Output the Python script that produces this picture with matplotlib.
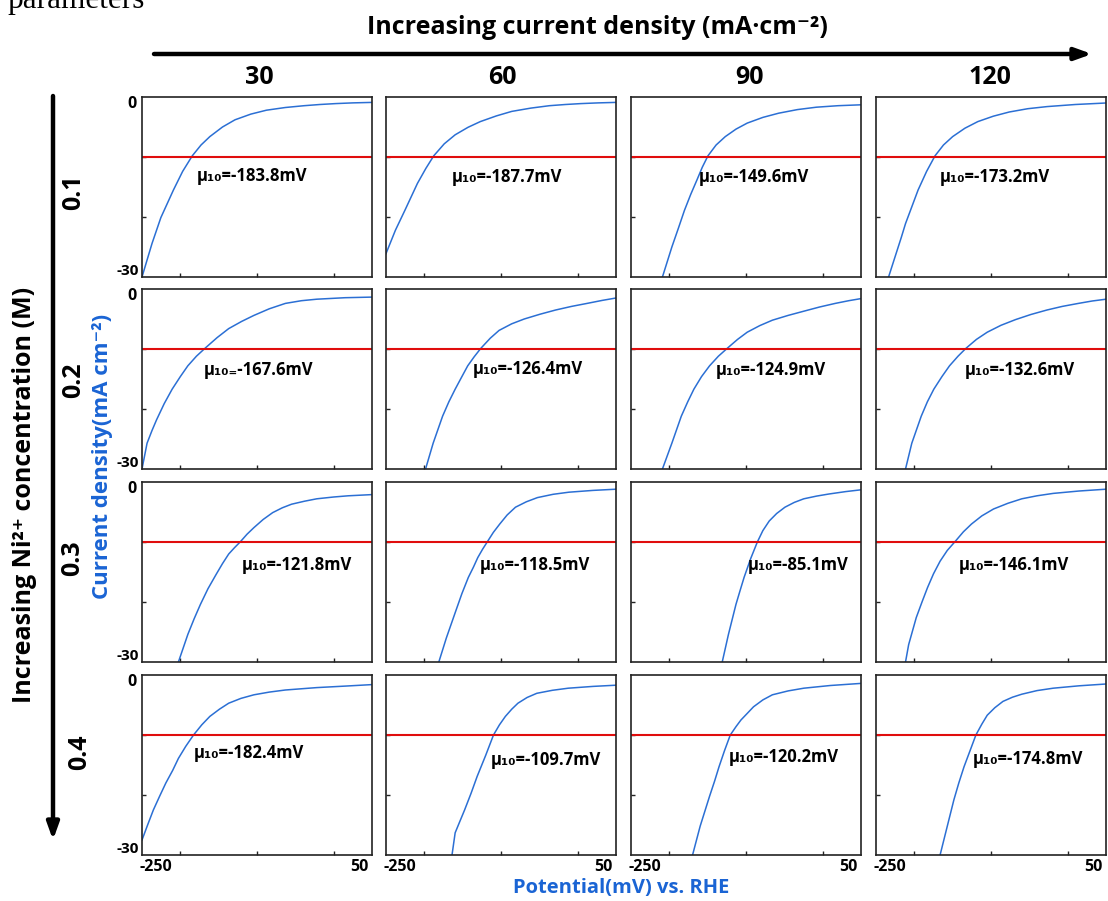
import matplotlib
matplotlib.use("Agg")
import matplotlib.pyplot as plt
from matplotlib.patches import FancyArrowPatch

plt.rcParams['font.family'] = ['Open Sans', 'DejaVu Sans']

# ---------------- data ----------------
col_labels = ["30", "60", "90", "120"]           # current density (mA cm-2)
row_labels = ["0.1", "0.2", "0.3", "0.4"]         # Ni2+ concentration (M)

# row 1 (0.1 M)
pot_r1c1 = [-250, -243, -236.9, -225.4, -209, -197, -184.4, -173, -161.5, -145, -128.7, -108, -87.7, -63, -38.5, -18, 2.5, 25, 50]
cur_r1c1 = [-30, -27, -24.4, -20.1, -15.5, -12.4, -9.8, -8.0, -6.6, -5.0, -3.8, -2.85, -2.2, -1.75, -1.45, -1.25, -1.1, -0.98, -0.9]
pot_r1c2 = [-250, -237.7, -225.4, -209, -198, -187.7, -174, -159.8, -143, -127, -106, -86, -61, -36.9, -16, 4.1, 27, 50]
cur_r1c2 = [-26.1, -22.2, -18.9, -14.4, -11.9, -9.8, -7.8, -6.3, -5.05, -4.1, -3.15, -2.4, -1.85, -1.45, -1.25, -1.1, -0.98, -0.9]
pot_r1c3 = [-209, -196.7, -188, -180.3, -172, -163.9, -157, -149.6, -139, -127, -113, -98.4, -78, -57.4, -33, -8.2, 20, 50]
cur_r1c3 = [-30, -25, -21.8, -18.9, -16.2, -13.8, -11.7, -9.8, -8.0, -6.6, -5.35, -4.35, -3.4, -2.7, -2.1, -1.7, -1.45, -1.3]
pot_r1c4 = [-233.6, -223.8, -217, -211.5, -203, -195.1, -184, -173, -162, -150, -134, -117.2, -97, -76.2, -52, -27, 10, 50]
cur_r1c4 = [-30, -26.1, -23.4, -21.1, -18.2, -15.5, -12.4, -9.8, -8.0, -6.6, -5.2, -4.1, -3.2, -2.5, -1.95, -1.6, -1.25, -1.0]

# row 2 (0.2 M)
pot_r2c1 = [-250, -243.4, -237, -231, -221, -210.7, -200, -190.2, -179, -168, -152, -136.9, -120, -104, -84, -63, -42, -22, 15, 50]
cur_r2c1 = [-30, -25.7, -23.6, -21.8, -19.1, -16.7, -14.6, -12.8, -11.2, -9.9, -8.1, -6.6, -5.4, -4.4, -3.3, -2.4, -1.95, -1.7, -1.45, -1.35]
pot_r2c2 = [-198.4, -188.5, -176.2, -168, -159.8, -151, -143.4, -135, -126.4, -114, -102.5, -86, -69.7, -49, -28.7, -8, 12.3, 32, 50]
cur_r2c2 = [-30, -25.7, -21.2, -18.8, -16.7, -14.6, -12.8, -11.3, -9.9, -8.2, -6.9, -5.8, -5.0, -4.2, -3.5, -2.9, -2.4, -1.9, -1.5]
pot_r2c3 = [-209, -196.7, -184.4, -176, -168, -158, -147.5, -136, -124.6, -111, -98.4, -82, -65.6, -45, -24.6, -4, 16.4, 34, 50]
cur_r2c3 = [-30, -25.7, -21.2, -18.8, -16.7, -14.6, -12.8, -11.2, -9.9, -8.4, -7.2, -6.1, -5.2, -4.4, -3.7, -3.0, -2.4, -1.95, -1.6]
pot_r2c4 = [-211.5, -203.3, -191, -183, -174.6, -164, -154.1, -143, -132.8, -119, -104.9, -87, -68, -48, -27, -7, 14, 32, 50]
cur_r2c4 = [-30, -25.7, -21.2, -18.8, -16.7, -14.6, -12.8, -11.2, -9.9, -8.4, -7.2, -6.05, -5.1, -4.25, -3.5, -2.9, -2.4, -2.0, -1.7]

# row 3 (0.3 M)
pot_r3c1 = [-202.5, -190.2, -182, -173.8, -164, -153.3, -145, -136.9, -129, -122, -113, -104, -92, -79.5, -67, -54.9, -38, -22, 0, 18.9, 50]
cur_r3c1 = [-30, -25.4, -22.8, -20.4, -17.8, -15.4, -13.6, -12, -10.9, -10, -8.7, -7.6, -6.25, -5.1, -4.3, -3.7, -3.2, -2.8, -2.5, -2.3, -2.1]
pot_r3c2 = [-181.1, -171.3, -159, -151, -142.6, -136, -130.3, -124, -118, -110, -101.6, -92, -81.1, -67, -52.5, -32, -11.5, 20, 50]
cur_r3c2 = [-30, -26, -21.5, -18.6, -15.9, -14.2, -12.6, -11.2, -10, -8.4, -7.0, -5.5, -4.2, -3.3, -2.6, -2.05, -1.7, -1.4, -1.2]
pot_r3c3 = [-131, -122.9, -113.1, -107.5, -102.5, -94, -85.2, -78, -69.7, -60, -49.2, -37, -24.6, -8, 8.2, 30, 50]
cur_r3c3 = [-30, -25.4, -20.4, -18, -15.9, -12.8, -10, -8.1, -6.5, -5.25, -4.2, -3.4, -2.8, -2.35, -2.0, -1.6, -1.3]
pot_r3c4 = [-211.5, -207.4, -197.5, -190, -182.8, -175, -166.4, -157, -146, -136, -125.4, -112, -96.7, -78, -59.8, -40, -18.9, 15, 50]
cur_r3c4 = [-30, -27.1, -22.6, -20, -17.6, -15.3, -13.2, -11.4, -9.8, -8.3, -7.0, -5.65, -4.5, -3.55, -2.8, -2.3, -1.9, -1.5, -1.2]

# row 4 (0.4 M)
pot_r4c1 = [-250, -243, -235.2, -227, -218.9, -210, -202.5, -193, -182.8, -172, -161.5, -149, -136.9, -121, -104, -84, -63, -22, 15, 50]
cur_r4c1 = [-27.5, -25.1, -22.5, -20.2, -18, -15.9, -13.9, -11.9, -10, -8.3, -6.9, -5.7, -4.7, -3.9, -3.3, -2.85, -2.5, -2.1, -1.85, -1.6]
pot_r4c2 = [-163.9, -159.8, -154, -147.5, -139, -131.1, -120, -109.8, -102, -94.3, -86, -77.9, -66, -53.3, -33, -12.3, 20, 50]
cur_r4c2 = [-30, -26.3, -24.5, -22.5, -19.7, -16.9, -13.4, -10, -8.3, -6.9, -5.7, -4.7, -3.75, -3.05, -2.55, -2.2, -1.9, -1.7]
pot_r4c3 = [-169.7, -159.8, -147.5, -141, -135.2, -128, -120.5, -113, -106.6, -98, -90.2, -78, -65.6, -45, -24.6, 10, 50]
cur_r4c3 = [-30, -25.2, -20.2, -17.7, -15.3, -12.6, -10, -8.6, -7.5, -6.35, -5.3, -4.15, -3.3, -2.65, -2.2, -1.75, -1.4]
pot_r4c4 = [-166.4, -158.2, -148.4, -142, -135.2, -127, -119.7, -112, -104.9, -95, -84.4, -72, -59.8, -40, -18.9, 15, 50]
cur_r4c4 = [-30, -25.8, -20.8, -18, -15.3, -12.5, -10, -8.2, -6.7, -5.45, -4.4, -3.7, -3.2, -2.6, -2.2, -1.8, -1.5]

potentials = [[pot_r1c1, pot_r1c2, pot_r1c3, pot_r1c4],
              [pot_r2c1, pot_r2c2, pot_r2c3, pot_r2c4],
              [pot_r3c1, pot_r3c2, pot_r3c3, pot_r3c4],
              [pot_r4c1, pot_r4c2, pot_r4c3, pot_r4c4]]
currents = [[cur_r1c1, cur_r1c2, cur_r1c3, cur_r1c4],
            [cur_r2c1, cur_r2c2, cur_r2c3, cur_r2c4],
            [cur_r3c1, cur_r3c2, cur_r3c3, cur_r3c4],
            [cur_r4c1, cur_r4c2, cur_r4c3, cur_r4c4]]

mu_labels = [["μ₁₀=-183.8mV", "μ₁₀=-187.7mV", "μ₁₀=-149.6mV", "μ₁₀=-173.2mV"],
             ["μ₁₀₌-167.6mV", "μ₁₀=-126.4mV", "μ₁₀=-124.9mV", "μ₁₀=-132.6mV"],
             ["μ₁₀=-121.8mV", "μ₁₀=-118.5mV", "μ₁₀=-85.1mV", "μ₁₀=-146.1mV"],
             ["μ₁₀=-182.4mV", "μ₁₀=-109.7mV", "μ₁₀=-120.2mV", "μ₁₀=-174.8mV"]]

ref_current = -10          # 10 mA cm-2 reference line
x_range = (-250, 50)
y_range = (-30, 0)

# annotation anchor (potential, current) for each panel label
label_pos = [[(-178, -13.2), (-164.5, -13.4), (-162, -13.4), (-166.6, -13.4)],
             [(-169.7, -13.5), (-137.5, -13.3), (-139, -13.5), (-134, -13.5)],
             [(-120.5, -13.8), (-127.7, -13.8), (-98, -13.8), (-142, -13.8)],
             [(-182, -13.0), (-113, -14.1), (-122.5, -13.7), (-124, -14.0)]]

# ---------------- figure ----------------
W, H = 1108, 901
fig = plt.figure(figsize=(W / 100, H / 100), dpi=100)

blue_line = '#2b6fd4'
blue_text = '#1a64d4'
red_line = '#e00d0d'

col_left = [142, 386, 631, 876]
row_top = [97, 289, 482, 675]
pw, ph = 230, 180


def px_axes(x0, y0, w, h):
    return fig.add_axes([x0 / W, 1 - (y0 + h) / H, w / W, h / H])


for r in range(4):
    for c in range(4):
        ax = px_axes(col_left[c], row_top[r], pw, ph)
        ax.plot(potentials[r][c], currents[r][c], color=blue_line, lw=1.1)
        ax.axhline(ref_current, color=red_line, lw=1.5)
        ax.set_xlim(*x_range)
        ax.set_ylim(*y_range)
        for s in ax.spines.values():
            s.set_linewidth(1.2)
            s.set_color('#222222')
        ax.set_xticks([-200, -100, 0])
        ax.set_yticks([-20, -10])
        ax.tick_params(direction='in', length=3, width=1, labelbottom=False,
                       labelleft=False, colors='#222222')
        if r == 3:
            ax.text(-0.01, -0.02, "-250", transform=ax.transAxes, ha='left', va='top',
                    fontsize=11.5, fontweight='bold')
            ax.text(0.985, -0.02, "50", transform=ax.transAxes, ha='right', va='top',
                    fontsize=11.5, fontweight='bold')
        if c == 0:
            ax.text(-0.025, 0.96, "0", transform=ax.transAxes, ha='right', va='center',
                    fontsize=11.5, fontweight='bold')
            ax.text(-0.012, 0.035, "-30", transform=ax.transAxes, ha='right', va='center',
                    fontsize=11, fontweight='bold')
        lx, ly = label_pos[r][c]
        ax.text(lx, ly, mu_labels[r][c], ha='left', va='center', fontsize=12,
                fontweight='bold', family=['Open Sans', 'DejaVu Sans'])

# ---------------- outer annotations ----------------
fig.text(7 / W, 1 - 8 / H, "parameters", family='Liberation Serif', fontsize=22.5,
         ha='left', va='baseline')

fig.text(597 / W, 1 - 27 / H, "Increasing current density (mA·cm⁻²)", ha='center',
         va='center', fontsize=18, fontweight='bold')

arr_h = FancyArrowPatch((154 / W, 1 - 54 / H), (1092 / W, 1 - 54 / H),
                        transform=fig.transFigure, arrowstyle='-|>,head_length=0.5,head_width=0.18',
                        lw=3.2, color='black', mutation_scale=20, shrinkA=0, shrinkB=0)
fig.add_artist(arr_h)
arr_v = FancyArrowPatch((53 / W, 1 - 96 / H), (53 / W, 1 - 840 / H),
                        transform=fig.transFigure, arrowstyle='-|>,head_length=0.5,head_width=0.18',
                        lw=3.2, color='black', mutation_scale=20, shrinkA=0, shrinkB=0)
fig.add_artist(arr_v)

col_centers = [259, 502, 750, 990]
for lab, cx in zip(col_labels, col_centers):
    fig.text(cx / W, 1 - 77 / H, lab, ha='center', va='center', fontsize=18,
             fontweight='bold')

row_centers = [(74, 192), (74, 380), (73, 558), (80, 752)]
for lab, (rx, ry) in zip(row_labels, row_centers):
    fig.text(rx / W, 1 - ry / H, lab, ha='center', va='center', fontsize=18,
             fontweight='bold', rotation=90)

fig.text(25 / W, 1 - 495 / H, "Increasing Ni²⁺ concentration (M)", ha='center',
         va='center', fontsize=18, fontweight='bold', rotation=90)

fig.text(103 / W, 1 - 456 / H, "Current density(mA cm⁻²)", ha='center', va='center',
         fontsize=16, fontweight='bold', rotation=90, color=blue_text)

fig.text(621 / W, 1 - 888 / H, "Potential(mV) vs. RHE", ha='center', va='center',
         fontsize=14.5, fontweight='bold', color=blue_text)

fig.savefig("out.png", dpi=100)
